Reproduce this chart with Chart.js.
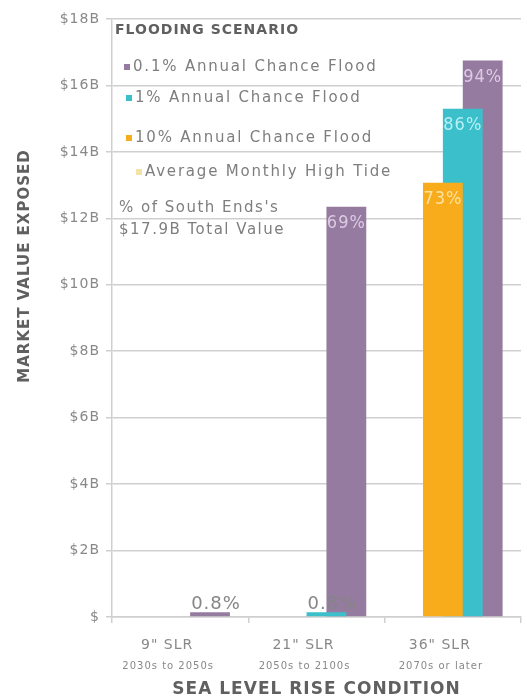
<!DOCTYPE html>
<html><head><meta charset="utf-8">
<script src="https://cdn.jsdelivr.net/npm/chart.js@4.4.1/dist/chart.umd.min.js"></script>
<style>html,body{margin:0;padding:0;background:#fff}#wrap{width:527px;height:700px}</style>
</head><body><div id="wrap"><canvas id="c" width="527" height="700"></canvas></div>
<script>
const slrLabels = ['9" SLR', '21" SLR', '36" SLR'];
const periodLabels = ['2030s to 2050s', '2050s to 2100s', '2070s or later'];
const seriesNames = ['Average Monthly High Tide', '10% Annual Chance Flood', '1% Annual Chance Flood', '0.1% Annual Chance Flood'];
const tideValues = [0, 0, 0];
const flood10Values = [0, 0, 13.07];
const flood1Values = [0, 0.143, 15.3];
const flood01Values = [0.143, 12.35, 16.75];
const tidePct = [null, null, null];
const flood10Pct = [null, null, '73%'];
const flood1Pct = [null, '0.8%', '86%'];
const flood01Pct = ['0.8%', '69%', '94%'];
const yTickLabels = ['$', '$2B', '$4B', '$6B', '$8B', '$10B', '$12B', '$14B', '$16B', '$18B'];
const yTitle = 'MARKET VALUE EXPOSED';
const xTitle = 'SEA LEVEL RISE CONDITION';
const legendTitle = 'FLOODING SCENARIO';
const legendNote = ["% of South Ends's", '$17.9B Total Value'];

const colors = ['#f3e3a6', '#f8ab1b', '#3bbfcb', '#967ba0'];
const labelColors = ['#fff5d0', '#fde3a0', '#b8f0f4', '#dccbe4'];
const pctLists = [tidePct, flood10Pct, flood1Pct, flood01Pct];
const FONT = '"DejaVu Sans", sans-serif';

const spacing = {
  id: 'spacing',
  beforeDraw(chart) { chart.ctx.letterSpacing = '1px'; }
};

const barLabels = {
  id: 'barLabels',
  afterDatasetsDraw(chart) {
    const ctx = chart.ctx;
    ctx.save();
    chart.data.datasets.forEach((ds, di) => {
      const meta = chart.getDatasetMeta(di);
      meta.data.forEach((bar, i) => {
        const txt = pctLists[di][i];
        if (!txt) return;
        ctx.textAlign = 'center';
        ctx.textBaseline = 'middle';
        ctx.letterSpacing = '1px';
        if (bar.base - bar.y > 30) {
          ctx.font = '18px "DejaVu Sans Condensed", "Liberation Sans Narrow", sans-serif';
          ctx.fillStyle = labelColors[di];
          ctx.fillText(txt, bar.x, bar.y + 17);
        } else {
          ctx.font = '18px "DejaVu Sans", sans-serif';
          ctx.fillStyle = '#858585';
          ctx.fillText(txt, bar.x + 6, bar.y - 8);
        }
      });
    });
    ctx.restore();
  }
};

const customLegend = {
  id: 'customLegend',
  afterDraw(chart) {
    const ctx = chart.ctx;
    const a = chart.chartArea;
    const x0 = a.left + 3;
    ctx.save();
    ctx.textBaseline = 'middle';
    ctx.textAlign = 'left';
    ctx.letterSpacing = '1px';
    ctx.font = 'bold 14px ' + FONT;
    ctx.fillStyle = '#606060';
    ctx.fillText(legendTitle, x0, a.top + 11);
    const order = [3, 2, 1, 0];
    const ys = [48, 79, 119, 153];
    const sx = [9, 11, 11, 21];
    ctx.letterSpacing = '1.8px';
    ctx.font = '15px ' + FONT;
    order.forEach((di, k) => {
      const y = a.top + ys[k];
      ctx.fillStyle = colors[di];
      ctx.fillRect(x0 + sx[k], y - 3, 6, 6);
      ctx.fillStyle = '#7e7e7e';
      ctx.fillText(chart.data.datasets[di].label, x0 + sx[k] + 9, y);
    });
    ctx.letterSpacing = '1.5px';
    ctx.fillText(legendNote[0], x0 + 4, a.top + 189);
    ctx.fillText(legendNote[1], x0 + 4, a.top + 211);
    // y axis title
    ctx.letterSpacing = '1px';
    ctx.font = 'bold 15px ' + FONT;
    ctx.fillStyle = '#606060';
    ctx.textAlign = 'center';
    ctx.translate(25, 266);
    ctx.rotate(-Math.PI / 2);
    ctx.fillText(yTitle, 0, 0);
    ctx.restore();
  }
};

const valueLists = [tideValues, flood10Values, flood1Values, flood01Values];
new Chart(document.getElementById('c'), {
  type: 'bar',
  data: {
    labels: slrLabels,
    datasets: seriesNames.map((n, i) => ({
      label: n,
      data: valueLists[i],
      backgroundColor: colors[i],
      borderWidth: 0,
      categoryPercentage: 0.584,
      barPercentage: 2
    }))
  },
  plugins: [spacing, barLabels, customLegend],
  options: {
    responsive: false,
    animation: false,
    layout: { padding: { top: 19, right: 6, left: 0, bottom: 0 } },
    plugins: { legend: { display: false }, tooltip: { enabled: false } },
    scales: {
      y: {
        min: 0, max: 18,
        afterFit: s => { s.width = 112; },
        ticks: {
          stepSize: 2,
          padding: 6,
          color: '#888888',
          font: { family: FONT, size: 14 },
          callback: (v, i) => yTickLabels[i]
        },
        grid: { color: '#cfcfcf', lineWidth: 1.5, tickLength: 6 },
        border: { color: '#cfcfcf', width: 1.5 }
      },
      x: {
        afterFit: s => { s.height = 34; },
        ticks: { color: '#888888', font: { family: FONT, size: 14 }, padding: 14, labelOffset: -13 },
        grid: { drawOnChartArea: false, color: '#cfcfcf', lineWidth: 1.5, tickLength: 6 },
        border: { color: '#cfcfcf', width: 1.5 }
      },
      x2: {
        type: 'category',
        labels: periodLabels,
        position: 'bottom',
        offset: true,
        afterFit: s => { s.height = 49; },
        ticks: { color: '#888888', font: { family: FONT, size: 10 }, padding: 9, labelOffset: -12 },
        grid: { display: false, drawTicks: false },
        border: { display: false },
        title: {
          display: true, text: xTitle,
          color: '#606060', font: { family: FONT, size: 17, weight: 'bold' },
          padding: { top: 0, bottom: 0 }
        }
      }
    }
  }
});
</script>
</body></html>
